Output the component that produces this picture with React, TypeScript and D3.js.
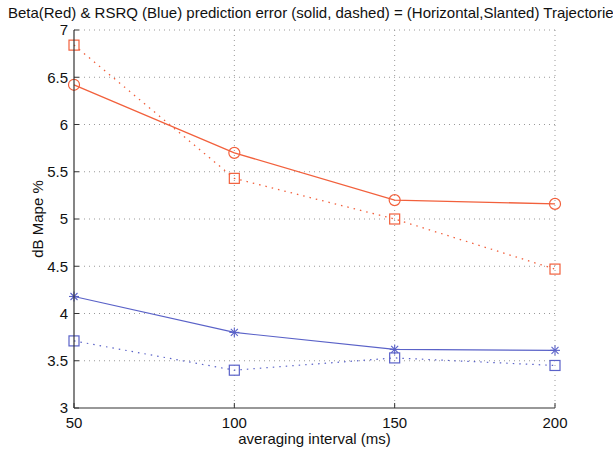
import React from "react";
import * as d3 from "d3";

const xValues = [50, 100, 150, 200];
const xTicks = [50, 100, 150, 200];
const yTicks = [3, 3.5, 4, 4.5, 5, 5.5, 6, 6.5, 7];
const betaHorizontal = [6.42, 5.70, 5.20, 5.16];
const betaSlanted = [6.84, 5.43, 5.00, 4.47];
const rsrqHorizontal = [4.18, 3.80, 3.62, 3.61];
const rsrqSlanted = [3.71, 3.40, 3.53, 3.45];

const RED = "#f2603c";
const BLUE = "#5a62c8";

const W = 613, H = 452;
const L = 74, R = 555, T = 30, B = 408;

export default function App() {
  const x = d3.scaleLinear().domain([50, 200]).range([L, R]);
  const y = d3.scaleLinear().domain([3, 7]).range([B, T]);
  const line = d3.line<number>().x((_, i) => x(xValues[i])).y((d) => y(d));
  const font = "Liberation Sans, Arial, sans-serif";

  const circle = (vals: number[]) =>
    vals.map((v, i) => (
      <circle key={i} cx={x(xValues[i])} cy={y(v)} r={5.5} fill="none" stroke={RED} strokeWidth={1.2} />
    ));
  const square = (vals: number[], color: string) =>
    vals.map((v, i) => (
      <rect key={i} x={x(xValues[i]) - 5} y={y(v) - 5} width={10} height={10} fill="none" stroke={color} strokeWidth={1.2} />
    ));
  const star = (vals: number[]) =>
    vals.map((v, i) => {
      const cx = x(xValues[i]), cy = y(v), s = 5;
      return (
        <g key={i} stroke={BLUE} strokeWidth={1.1}>
          <line x1={cx - s} y1={cy} x2={cx + s} y2={cy} />
          <line x1={cx} y1={cy - s} x2={cx} y2={cy + s} />
          <line x1={cx - s * 0.7} y1={cy - s * 0.7} x2={cx + s * 0.7} y2={cy + s * 0.7} />
          <line x1={cx - s * 0.7} y1={cy + s * 0.7} x2={cx + s * 0.7} y2={cy - s * 0.7} />
        </g>
      );
    });

  return (
    <svg width={W} height={H} style={{ position: "absolute", left: 0, top: 0, background: "#fff" }} fontFamily={font}>
      <rect x={0} y={0} width={W} height={H} fill="#fff" />
      {/* grid */}
      {yTicks.filter((t) => t !== 3).map((t) => (
        <line key={"gy" + t} x1={L} x2={R} y1={y(t)} y2={y(t)} stroke="#999" strokeWidth={1} strokeDasharray="1 4" />
      ))}
      {xTicks.filter((t) => t !== 50).map((t) => (
        <line key={"gx" + t} x1={x(t)} x2={x(t)} y1={T} y2={B} stroke="#999" strokeWidth={1} strokeDasharray="1 4" />
      ))}
      {/* series */}
      <path d={line(betaHorizontal) || ""} fill="none" stroke={RED} strokeWidth={1.3} />
      <path d={line(betaSlanted) || ""} fill="none" stroke={RED} strokeWidth={1.3} strokeDasharray="1.5 5" />
      <path d={line(rsrqHorizontal) || ""} fill="none" stroke={BLUE} strokeWidth={1.1} />
      <path d={line(rsrqSlanted) || ""} fill="none" stroke={BLUE} strokeWidth={1.2} strokeDasharray="1.5 5" />
      {circle(betaHorizontal)}
      {square(betaSlanted, RED)}
      {star(rsrqHorizontal)}
      {square(rsrqSlanted, BLUE)}
      {/* axes */}
      <line x1={L} x2={L} y1={T} y2={B} stroke="#333" strokeWidth={1.2} />
      <line x1={L} x2={R} y1={B} y2={B} stroke="#333" strokeWidth={1.2} />
      {yTicks.map((t) => (
        <g key={"yt" + t}>
          <line x1={L} x2={L + 5} y1={y(t)} y2={y(t)} stroke="#333" />
          <text x={L - 6} y={y(t)} dy="0.35em" textAnchor="end" fontSize={15} fill="#111">{t}</text>
        </g>
      ))}
      {xTicks.map((t) => (
        <g key={"xt" + t}>
          <line x1={x(t)} x2={x(t)} y1={B} y2={B - 5} stroke="#333" />
          <text x={x(t)} y={B + 20} textAnchor="middle" fontSize={15} fill="#111">{t}</text>
        </g>
      ))}
      <text x={(L + R) / 2} y={444} textAnchor="middle" fontSize={15} fill="#111">averaging interval (ms)</text>
      <text transform={`translate(43,${(T + B) / 2}) rotate(-90)`} textAnchor="middle" fontSize={15} fill="#111">dB Mape %</text>
      <text x={(L + R) / 2} y={18} textAnchor="middle" fontSize={15} fill="#111">Beta(Red) &amp; RSRQ (Blue) prediction error (solid, dashed) = (Horizontal,Slanted) Trajectories</text>
    </svg>
  );
}
